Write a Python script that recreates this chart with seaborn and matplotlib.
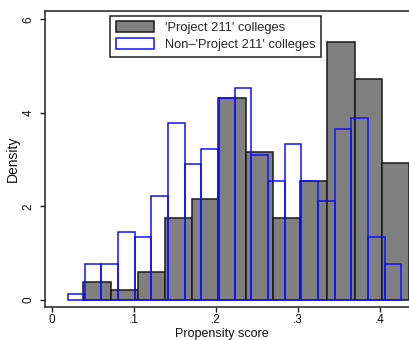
import numpy as np
import pandas as pd
import matplotlib
matplotlib.use("Agg")
import matplotlib.pyplot as plt
import seaborn as sns
from matplotlib.patches import Patch

# Densities (histogram bar heights)
p211_start = 0.0388
p211_width = 0.0330
p211_density = [0.39, 0.21, 0.60, 1.76, 2.15, 4.32, 3.16, 1.76, 2.55, 5.52, 4.72, 2.94]

non_start = 0.0198
non_width = 0.0203
non_density = [0.12, 0.78, 0.78, 1.46, 1.34, 2.23, 3.78, 2.90, 3.23, 4.32,
               4.54, 3.11, 2.55, 3.33, 2.55, 2.12, 3.65, 3.90, 1.34, 0.78]

x_ticks = [0, 0.1, 0.2, 0.3, 0.4]
x_ticklabels = ["0", ".1", ".2", ".3", ".4"]
y_ticks = [0, 2, 4, 6]

labels = ["'Project 211' colleges", "Non\u2013'Project 211' colleges"]


def hist_table(start, width, density):
    edges = start + width * np.arange(len(density) + 1)
    df = pd.DataFrame({'score': (edges[:-1] + edges[1:]) / 2,
                       'density': density})
    # seaborn compares bins to "auto", so hand it a plain list
    return df, edges.tolist()


sns.set_style("ticks")
plt.rcParams['font.family'] = ['Liberation Sans', 'DejaVu Sans']

fig = plt.figure(figsize=(4.09, 3.4), dpi=100)
ax = fig.add_axes([0.110, 0.097, 0.90, 0.8706])

df1, e1 = hist_table(p211_start, p211_width, p211_density)
sns.histplot(data=df1, x='score', weights='density', bins=e1, ax=ax,
             color="#808080", edgecolor="#1a1a1a", linewidth=1.1, alpha=1)

df2, e2 = hist_table(non_start, non_width, non_density)
sns.histplot(data=df2, x='score', weights='density', bins=e2, ax=ax,
             fill=False, color="#1010ff", linewidth=1.1)

ax.set_xlim(-0.008, 0.44)
ax.set_ylim(-0.15, 6.18)
ax.set_xticks(x_ticks)
ax.set_xticklabels(x_ticklabels)
ax.set_yticks(y_ticks)
ax.tick_params(axis='both', labelsize=8.5, length=3.8, width=1, color="#222222",
               labelcolor="#111111")
ax.tick_params(axis='x', pad=1.2)
for lab in ax.get_yticklabels():
    lab.set_rotation(90)
    lab.set_va("center")
    lab.set_ha("right")

for s in ax.spines.values():
    s.set_visible(True)
    s.set_linewidth(1.1)
    s.set_color("#222222")

ax.set_xlabel("Propensity score", fontsize=9, color="#111111", va="bottom")
ax.xaxis.set_label_coords(0.48, -0.1115)
ax.set_ylabel("Density", fontsize=10, color="#111111")
ax.yaxis.set_label_coords(-0.068, 0.5)

handles = [Patch(facecolor="#808080", edgecolor="#1a1a1a", linewidth=1.1),
           Patch(facecolor="white", edgecolor="#1010ff", linewidth=1.1)]
leg = ax.legend(handles, labels, loc="upper left", bbox_to_anchor=(0.177, 0.984),
                prop={'size': 9.3}, frameon=True, fancybox=False,
                handlelength=2.95, handleheight=0.95, borderpad=0.42,
                labelspacing=0.32, handletextpad=0.85, borderaxespad=0)
leg.get_frame().set_edgecolor("#222222")
leg.get_frame().set_linewidth(1.1)
leg.get_frame().set_alpha(1)

fig.savefig("out.png", dpi=100)
